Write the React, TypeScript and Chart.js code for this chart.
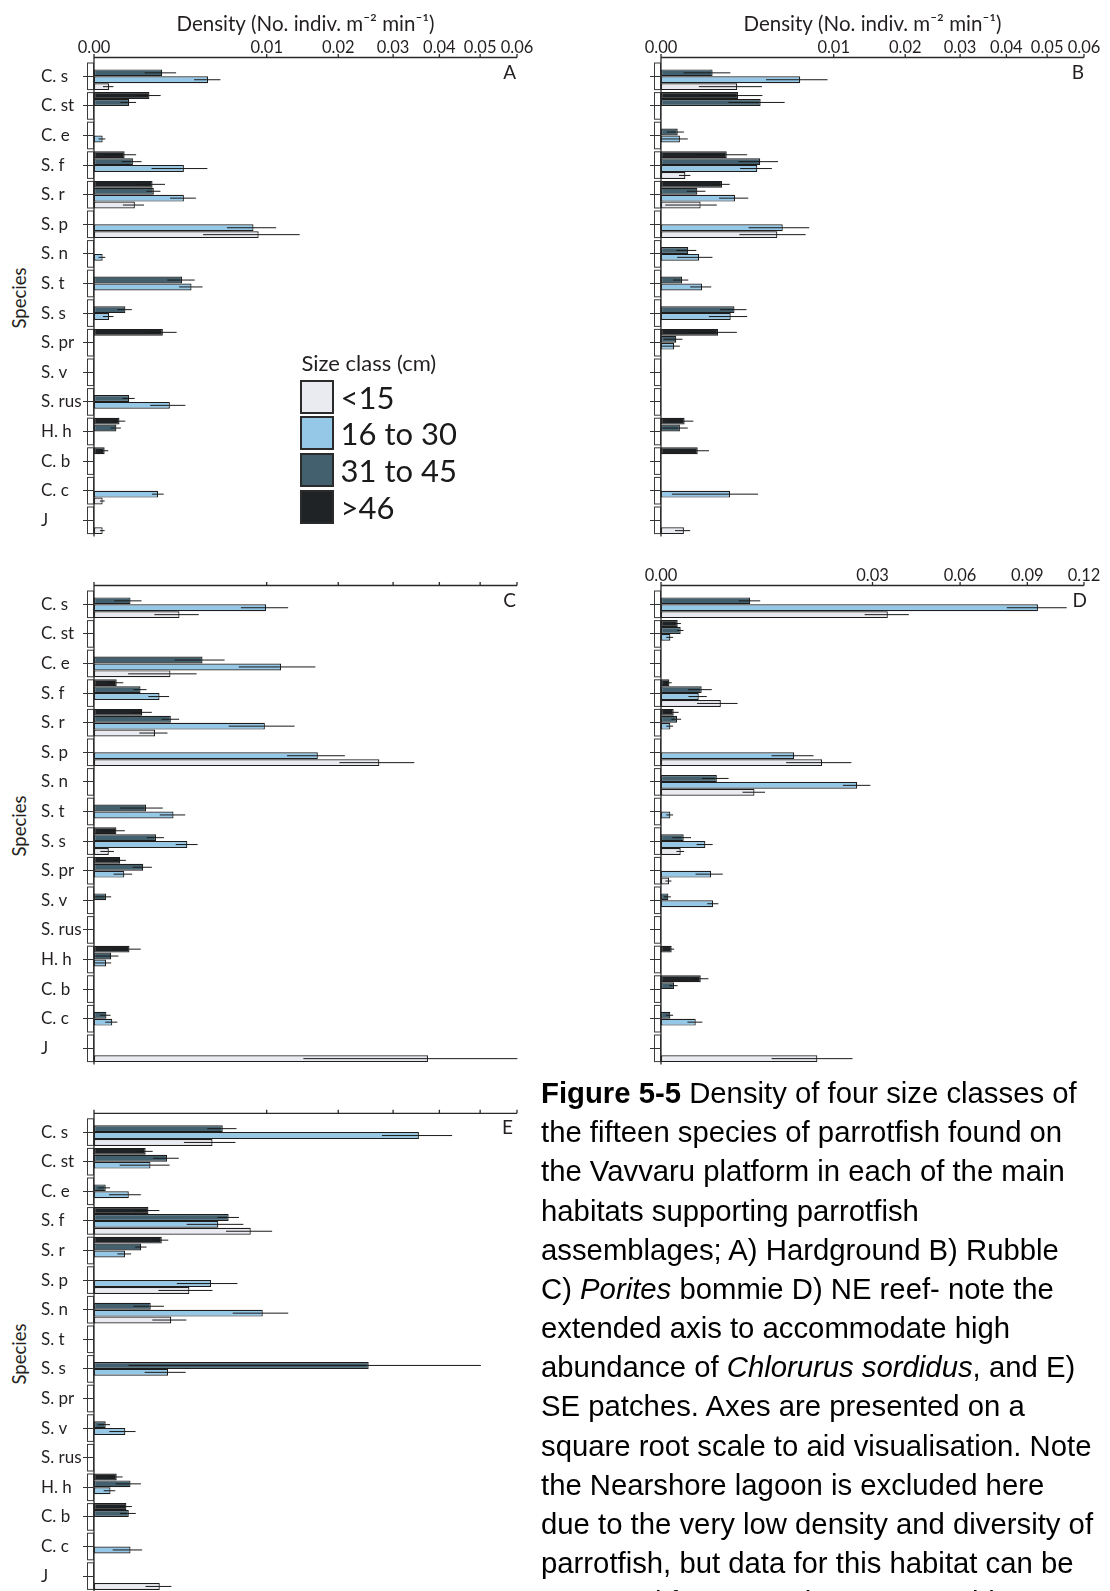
import React, { useEffect, useRef } from 'react';
import { Chart, registerables, LinearScale } from 'chart.js';

Chart.register(...registerables);

// ---- square-root value scale ----
class SqrtScale extends LinearScale {
  static id = 'sqrt';
  static defaults = {};
  getPixelForValue(value: any) {
    if (value === null || value === undefined || isNaN(value)) return NaN;
    const lo = Math.sqrt(Math.max((this as any).min, 0));
    const hi = Math.sqrt(Math.max((this as any).max, 0));
    return (this as any).getPixelForDecimal((Math.sqrt(Math.max(+value, 0)) - lo) / (hi - lo));
  }
  getValueForPixel(pixel: number) {
    const lo = Math.sqrt(Math.max((this as any).min, 0));
    const hi = Math.sqrt(Math.max((this as any).max, 0));
    const s = lo + (this as any).getDecimalForPixel(pixel) * (hi - lo);
    return s * s;
  }
}
Chart.register(SqrtScale as any);

// ---- data ----
const SPECIES = ['C. s', 'C. st', 'C. e', 'S. f', 'S. r', 'S. p', 'S. n', 'S. t', 'S. s', 'S. pr', 'S. v', 'S. rus', 'H. h', 'C. b', 'C. c', 'J'];
const SIZE_CLASSES = ['<15', '16 to 30', '31 to 45', '>46'];
const TICKS_STD = [0, 0.01, 0.02, 0.03, 0.04, 0.05, 0.06];
const TICKS_D = [0, 0.03, 0.06, 0.09, 0.12];

// Panel A – Hardground
const A_GT46 = [0, 0.00103, 0, 0.000315, 0.00115, 0, 0, 0, 0, 0.00159, 0, 0, 0.000218, 0.000038, 0, 0];
const A_GT46_ERR = [0, 0.00046, 0, 0.00028, 0.00054, 0, 0, 0, 0, 0.0007, 0, 0, 0.00011, 0.00003, 0, 0];
const A_31_45 = [0.00156, 0.000414, 0, 0.000508, 0.0012, 0, 0, 0.0026, 0.00033, 0, 0, 0.000414, 0.000168, 0, 0, 0];
const A_31_45_ERR = [0.0007, 0.00018, 0, 0.00025, 0.00028, 0, 0, 0.0008, 0.00015, 0, 0, 0.00014, 0.000074, 0, 0, 0];
const A_16_30 = [0.00436, 0, 0.000025, 0.00271, 0.00271, 0.00853, 0.000025, 0.00319, 0.000077, 0, 0, 0.00193, 0, 0, 0.00138, 0];
const A_16_30_ERR = [0.001, 0, 0.000018, 0.0016, 0.00077, 0.0026, 0.000018, 0.00076, 0.00005, 0, 0, 0.00087, 0, 0, 0.00025, 0];
const A_LT15 = [0.000077, 0, 0, 0, 0.00056, 0.00909, 0, 0, 0, 0, 0, 0, 0, 0, 0.000025, 0.000025];
const A_LT15_ERR = [0.00005, 0, 0, 0, 0.00028, 0.0051, 0, 0, 0, 0, 0, 0, 0, 0, 0.000013, 0.000013];

// Panel B – Rubble
const B_GT46 = [0, 0.00199, 0, 0.00145, 0.00125, 0, 0, 0, 0, 0.00109, 0, 0, 0.000187, 0.000452, 0, 0];
const B_GT46_ERR = [0, 0.00146, 0, 0.00104, 0.00033, 0, 0, 0, 0, 0.00084, 0, 0, 0.000164, 0.00032, 0, 0];
const B_31_45 = [0.000893, 0.00333, 0.0000937, 0.0033, 0.000443, 0, 0.000249, 0.000149, 0.00181, 0.000078, 0, 0, 0.00012, 0, 0, 0];
const B_31_45_ERR = [0.00072, 0.0018, 0.000082, 0.00129, 0.00022, 0, 0.00017, 0.0001, 0.00064, 0.000076, 0, 0, 0.00012, 0, 0, 0];
const B_16_30 = [0.0065, 0, 0.00012, 0.00311, 0.00184, 0.00497, 0.000488, 0.000566, 0.00163, 0.0000574, 0, 0, 0, 0, 0.0016, 0];
const B_16_30_ERR = [0.0028, 0, 0.00012, 0.00101, 0.00071, 0.0024, 0.0004, 0.00028, 0.00086, 0.000062, 0, 0, 0, 0, 0.00156, 0];
const B_LT15 = [0.00195, 0, 0, 0.000199, 0.000526, 0.00454, 0, 0, 0, 0, 0, 0, 0, 0, 0, 0.000176];
const B_LT15_ERR = [0.00147, 0, 0, 0.00009, 0.00052, 0.00248, 0, 0, 0, 0, 0, 0, 0, 0, 0, 0.00011];

// Panel C – Porites bommie
const C_GT46 = [0, 0, 0, 0.000173, 0.00078, 0, 0, 0, 0.000168, 0.00023, 0, 0, 0.000422, 0, 0, 0];
const C_GT46_ERR = [0, 0, 0, 0.000114, 0.00034, 0, 0, 0, 0.00015, 0.00011, 0, 0, 0.00031, 0, 0, 0];
const C_31_45 = [0.000447, 0, 0.00395, 0.000725, 0.00198, 0, 0, 0.000907, 0.00129, 0.000813, 0.0000487, 0, 0.0000994, 0, 0.0000516, 0];
const C_31_45_ERR = [0.00031, 0, 0.00177, 0.0002, 0.00045, 0, 0, 0.00068, 0.00035, 0.00031, 0.00005, 0, 0.0001, 0, 0.00004, 0];
const C_16_30 = [0.00994, 0, 0.01173, 0.00144, 0.00979, 0.0168, 0, 0.00212, 0.00292, 0.000308, 0, 0, 0.0000487, 0, 0.000112, 0];
const C_16_30_ERR = [0.0027, 0, 0.0047, 0.00045, 0.0037, 0.0043, 0, 0.00067, 0.00068, 0.00018, 0, 0, 0.00005, 0, 0.00007, 0];
const C_LT15 = [0.00245, 0, 0.00196, 0, 0.00125, 0.0273, 0, 0, 0.0000735, 0, 0, 0, 0, 0, 0, 0.0374];
const C_LT15_ERR = [0.00123, 0, 0.00157, 0, 0.00056, 0.0071, 0, 0, 0.00006, 0, 0, 0, 0, 0, 0, 0.0227];

// Panel D – NE reef
const D_GT46 = [0, 0.000187, 0, 0.0000467, 0.000108, 0, 0, 0, 0, 0, 0, 0, 0.0000766, 0.00106, 0, 0];
const D_GT46_ERR = [0, 0.00008, 0, 0.00003, 0.0001, 0, 0, 0, 0, 0, 0, 0, 0.00004, 0.00045, 0, 0];
const D_31_45 = [0.00533, 0.00026, 0, 0.00111, 0.000172, 0, 0.00209, 0, 0.000346, 0, 0.0000362, 0, 0, 0.000114, 0.0000586, 0];
const D_31_45_ERR = [0.00127, 0.00008, 0, 0.00062, 0.0001, 0, 0.00097, 0, 0.00026, 0, 0.00003, 0, 0, 0.00007, 0.00004, 0];
const D_16_30 = [0.0953, 0.0000586, 0, 0.000955, 0.0000586, 0.0119, 0.0258, 0.0000586, 0.00132, 0.00168, 0.00182, 0, 0, 0, 0.000809, 0];
const D_16_30_ERR = [0.0151, 0.00004, 0, 0.00045, 0.00004, 0.0037, 0.0036, 0.00004, 0.00047, 0.00088, 0.00039, 0, 0, 0, 0.00034, 0];
const D_LT15 = [0.0345, 0, 0, 0.0024, 0, 0.0174, 0.00586, 0, 0.00026, 0.0000431, 0, 0, 0, 0, 0, 0.0164];
const D_LT15_ERR = [0.0067, 0, 0, 0.00153, 0, 0.0069, 0.0014, 0, 0.0001, 0.00003, 0, 0, 0, 0, 0, 0.0082];

// Panel E – SE patches
const E_GT46 = [0, 0.000895, 0, 0.000993, 0.00154, 0, 0, 0, 0, 0, 0, 0, 0.000173, 0.000352, 0, 0];
const E_GT46_ERR = [0, 0.00026, 0, 0.00044, 0.00031, 0, 0, 0, 0, 0, 0, 0, 0.0001, 0.00013, 0, 0];
const E_31_45 = [0.00556, 0.00179, 0.000046, 0.00608, 0.000747, 0, 0.00108, 0, 0.0253, 0, 0.000046, 0, 0.000447, 0.000406, 0, 0];
const E_31_45_ERR = [0.00125, 0.00062, 0.00004, 0.00097, 0.00018, 0, 0.00056, 0, 0.0249, 0, 0.00004, 0, 0.00029, 0.00018, 0, 0];
const E_16_30 = [0.0354, 0.00107, 0.000406, 0.00518, 0.000322, 0.0046, 0.00955, 0, 0.00184, 0, 0.000329, 0, 0.0000916, 0, 0.000447, 0];
const E_16_30_ERR = [0.0076, 0.00085, 0.00033, 0.0023, 0.00014, 0.0023, 0.0031, 0, 0.00098, 0, 0.00025, 0, 0.00006, 0, 0.00033, 0];
const E_LT15 = [0.00471, 0, 0, 0.00824, 0, 0.00305, 0.002, 0, 0, 0, 0, 0, 0, 0, 0, 0.00145];
const E_LT15_ERR = [0.002, 0, 0, 0.0024, 0, 0.00166, 0.00086, 0, 0, 0, 0, 0, 0, 0, 0, 0.00056];

// ---- styles ----
const TEXT = '#231f20';
const FONT = 'Lato, "Open Sans", sans-serif';
// dataset order top-to-bottom within a group: >46, 31-45, 16-30, <15
const FILLS = ['#1f2326', '#42606e', '#95c7e7', '#e9ebf1'];
const SERIES_LABELS = ['>46', '31 to 45', '16 to 30', '<15'];
const LEGEND_FILLS: Record<string, string> = { '<15': '#e9ebf1', '16 to 30': '#95c7e7', '31 to 45': '#42606e', '>46': '#1f2326' };
const CAT_PCT = 0.932;
const PAD_LEFT = 11;
const AXIS_GAP = 4;

const decorPlugin = {
  id: 'decor',
  afterDatasetsDraw(chart: any, _args: any, opts: any) {
    const { ctx, chartArea, scales } = chart;
    const x = scales.x;
    const y = scales.y;
    ctx.save();
    // category boxes left of the value axis
    const step = y.getPixelForValue(1) - y.getPixelForValue(0);
    const half = (step * CAT_PCT) / 2;
    ctx.strokeStyle = '#3a3a3a';
    ctx.lineWidth = 1;
    for (let i = 0; i < SPECIES.length; i++) {
      const c = y.getPixelForValue(i);
      ctx.strokeRect(Math.round(chartArea.left) - 6.5, c - half + 0.5, 6, 2 * half - 1);
    }
    // error bars
    ctx.strokeStyle = '#1a1a1a';
    ctx.lineWidth = 1;
    chart.data.datasets.forEach((ds: any, di: number) => {
      const meta = chart.getDatasetMeta(di);
      meta.data.forEach((bar: any, i: number) => {
        const v = ds.data[i];
        const e = ds.errors[i];
        if (v == null || !e) return;
        const x1 = x.getPixelForValue(Math.max(v - e, 0));
        const x2 = x.getPixelForValue(v + e);
        ctx.beginPath();
        ctx.moveTo(x1, bar.y);
        ctx.lineTo(x2, bar.y);
        ctx.stroke();
      });
    });
    // axis lines + tick marks
    const axisY = chartArea.top - AXIS_GAP;
    ctx.strokeStyle = '#2a2a2a';
    ctx.lineWidth = 1.3;
    ctx.beginPath();
    ctx.moveTo(chartArea.left, axisY);
    ctx.lineTo(chartArea.right, axisY);
    ctx.moveTo(chartArea.left, axisY);
    ctx.lineTo(chartArea.left, chartArea.bottom + 1.5);
    x.ticks.forEach((t: any) => {
      const px = x.getPixelForValue(t.value);
      ctx.moveTo(px, axisY);
      ctx.lineTo(px, axisY - 3.5);
    });
    ctx.stroke();
    // panel letter
    ctx.fillStyle = TEXT;
    ctx.font = '19px ' + FONT;
    ctx.textAlign = 'right';
    ctx.textBaseline = 'alphabetic';
    ctx.fillText(opts.letter, chartArea.right + (opts.letterShift || 0), axisY + 21);
    ctx.restore();
  },
};

type PanelDef = {
  letter: string;
  left: number; top: number; width: number; height: number;
  plotLeft: number; plotRight: number; bandTop: number; bandBottom: number;
  max: number; ticks: number[];
  showTickLabels: boolean; showTitle: boolean; showSpecies: boolean;
  letterShift: number;
  series: number[][]; errors: number[][];
};

const PANELS: PanelDef[] = [
  { letter: 'A', left: 30, top: 0, width: 512, height: 550, plotLeft: 94, plotRight: 517, bandTop: 61.5, bandBottom: 535.1, max: 0.06, ticks: TICKS_STD, showTickLabels: true, showTitle: true, showSpecies: true, letterShift: -1,
    series: [A_GT46, A_31_45, A_16_30, A_LT15], errors: [A_GT46_ERR, A_31_45_ERR, A_16_30_ERR, A_LT15_ERR] },
  { letter: 'B', left: 597, top: 0, width: 512, height: 550, plotLeft: 661, plotRight: 1084, bandTop: 61.5, bandBottom: 535.1, max: 0.06, ticks: TICKS_STD, showTickLabels: true, showTitle: true, showSpecies: false, letterShift: 0,
    series: [B_GT46, B_31_45, B_16_30, B_LT15], errors: [B_GT46_ERR, B_31_45_ERR, B_16_30_ERR, B_LT15_ERR] },
  { letter: 'C', left: 30, top: 550, width: 512, height: 528, plotLeft: 94, plotRight: 517, bandTop: 589.5, bandBottom: 1063.1, max: 0.06, ticks: TICKS_STD, showTickLabels: false, showTitle: false, showSpecies: true, letterShift: -1,
    series: [C_GT46, C_31_45, C_16_30, C_LT15], errors: [C_GT46_ERR, C_31_45_ERR, C_16_30_ERR, C_LT15_ERR] },
  { letter: 'D', left: 597, top: 550, width: 512, height: 528, plotLeft: 661, plotRight: 1084, bandTop: 589.5, bandBottom: 1063.1, max: 0.12, ticks: TICKS_D, showTickLabels: true, showTitle: false, showSpecies: false, letterShift: 3,
    series: [D_GT46, D_31_45, D_16_30, D_LT15], errors: [D_GT46_ERR, D_31_45_ERR, D_16_30_ERR, D_LT15_ERR] },
  { letter: 'E', left: 30, top: 1078, width: 512, height: 528, plotLeft: 94, plotRight: 517, bandTop: 1117.3, bandBottom: 1590.9, max: 0.06, ticks: TICKS_STD, showTickLabels: false, showTitle: false, showSpecies: true, letterShift: -4,
    series: [E_GT46, E_31_45, E_16_30, E_LT15], errors: [E_GT46_ERR, E_31_45_ERR, E_16_30_ERR, E_LT15_ERR] },
];

function buildConfig(p: PanelDef): any {
  const yAxisWidth = p.plotLeft - p.left - PAD_LEFT;
  const xAxisHeight = p.bandTop - p.top;
  return {
    type: 'bar',
    data: {
      labels: SPECIES,
      datasets: p.series.map((vals, di) => ({
        label: SERIES_LABELS[di],
        data: vals.map((v) => (v > 0 ? v : null)),
        errors: p.errors[di],
        backgroundColor: FILLS[di],
        borderColor: '#1d1d1d',
        borderWidth: 1.2,
        borderSkipped: false,
        categoryPercentage: CAT_PCT,
        barPercentage: 1,
      })),
    },
    options: {
      indexAxis: 'y',
      responsive: false,
      animation: false,
      events: [],
      layout: { padding: { left: PAD_LEFT, top: 0, right: p.left + p.width - p.plotRight, bottom: p.top + p.height - p.bandBottom } },
      plugins: { legend: { display: false }, tooltip: { enabled: false }, decor: { letter: p.letter, letterShift: p.letterShift } },
      scales: {
        x: {
          type: 'sqrt',
          position: 'top',
          min: 0,
          max: p.max,
          afterBuildTicks: (ax: any) => { ax.ticks = p.ticks.map((v) => ({ value: v })); },
          afterFit: (ax: any) => { ax.height = xAxisHeight; },
          grid: { display: false, drawTicks: false },
          border: { display: false },
          ticks: { display: p.showTickLabels, padding: 3.6, autoSkip: false, maxRotation: 0, color: TEXT, font: { family: FONT, size: 16.5 }, callback: (v: any) => Number(v).toFixed(2) },
          title: { display: p.showTitle, text: 'Density (No. indiv. m\u207B\u00B2 min\u207B\u00B9)', color: TEXT, font: { family: FONT, size: 20.5 }, padding: { top: 11.7, bottom: 0 } },
        },
        y: {
          type: 'category',
          offset: true,
          afterFit: (ax: any) => { ax.width = yAxisWidth; },
          grid: { display: true, drawOnChartArea: false, drawTicks: true, tickLength: 11, offset: false, color: '#333', lineWidth: 1 },
          border: { display: false },
          ticks: { display: p.showSpecies, crossAlign: 'far', padding: 0, autoSkip: false, color: TEXT, font: { family: FONT, size: 17 } },
        },
      },
    },
    plugins: [decorPlugin],
  };
}

function Panel({ p }: { p: PanelDef }) {
  const ref = useRef<HTMLCanvasElement>(null);
  useEffect(() => {
    const chart = new Chart(ref.current as HTMLCanvasElement, buildConfig(p));
    return () => chart.destroy();
  }, [p]);
  return (
    <canvas
      ref={ref}
      width={p.width}
      height={p.height}
      style={{ position: 'absolute', left: p.left, top: p.top, width: p.width, height: p.height }}
    />
  );
}

function SpeciesTitle({ cy }: { cy: number }) {
  return (
    <div style={{ position: 'absolute', left: 18.5, top: cy, transform: 'translate(-50%, -50%) rotate(-90deg)', fontFamily: FONT, fontSize: 18.5, color: TEXT, whiteSpace: 'nowrap', lineHeight: 1 }}>
      Species
    </div>
  );
}

function Legend() {
  return (
    <div style={{ position: 'absolute', left: 299.5, top: 351, fontFamily: FONT, color: TEXT }}>
      <div style={{ fontSize: 22, lineHeight: '24px', marginLeft: 2, whiteSpace: 'nowrap' }}>Size class (cm)</div>
      <div style={{ marginTop: 5 }}>
        {SIZE_CLASSES.map((s) => (
          <div key={s} style={{ display: 'flex', alignItems: 'center', height: 33.5, marginBottom: 3.2 }}>
            <div style={{ width: 30, height: 30, border: '2px solid #2b2b2b', background: LEGEND_FILLS[s], flex: 'none' }} />
            <div style={{ fontSize: 31, marginLeft: 7, lineHeight: '34px', whiteSpace: 'nowrap', color: '#1a1a1a' }}>{s}</div>
          </div>
        ))}
      </div>
    </div>
  );
}

const CAPTION_LINES: React.ReactNode[] = [
  <><b>Figure 5-5</b> Density of four size classes of</>,
  <>the fifteen species of parrotfish found on</>,
  <>the Vavvaru platform in each of the main</>,
  <>habitats supporting parrotfish</>,
  <>assemblages; A) Hardground B) Rubble</>,
  <>C) <i>Porites</i> bommie D) NE reef- note the</>,
  <>extended axis to accommodate high</>,
  <>abundance of <i>Chlorurus sordidus</i>, and E)</>,
  <>SE patches. Axes are presented on a</>,
  <>square root scale to aid visualisation. Note</>,
  <>the Nearshore lagoon is excluded here</>,
  <>due to the very low density and diversity of</>,
  <>parrotfish, but data for this habitat can be</>,
  <>extracted from Supplementary Table 5-4.</>,
];

function Caption() {
  return (
    <div style={{ position: 'absolute', left: 541, top: 1073.1, fontFamily: '"Liberation Sans", Arial, sans-serif', fontSize: 29.3, lineHeight: '39.15px', color: '#000', whiteSpace: 'nowrap' }}>
      {CAPTION_LINES.map((l, i) => (<div key={i}>{l}</div>))}
    </div>
  );
}

export default function App() {
  return (
    <div style={{ position: 'absolute', left: 0, top: 0, width: 1110, height: 1591, overflow: 'hidden', background: '#fff' }}>
      {PANELS.map((p) => (<Panel key={p.letter} p={p} />))}
      <SpeciesTitle cy={298.3} />
      <SpeciesTitle cy={826.3} />
      <SpeciesTitle cy={1354.1} />
      <Legend />
      <Caption />
    </div>
  );
}
